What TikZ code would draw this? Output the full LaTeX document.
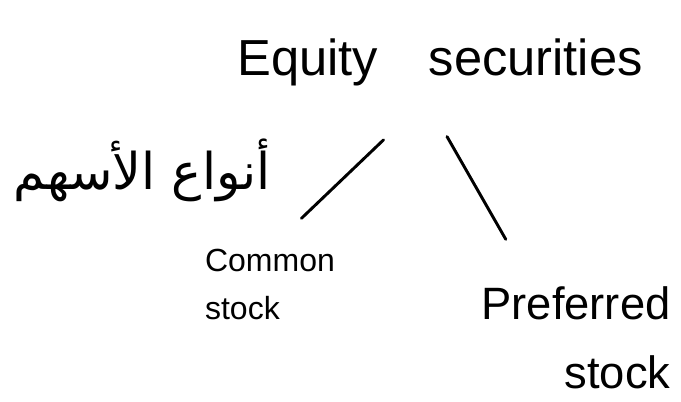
\documentclass[tikz,border=0pt]{standalone}
\usepackage{fontspec}
\setmainfont{Liberation Sans}
\newfontfamily\arabicfont[Script=Arabic]{DejaVu Sans}
\TeXXeTstate=1
\begin{document}
\begin{tikzpicture}[x=0.75pt, y=-0.75pt,
    title/.style ={font=\fontsize{38}{44}\selectfont, inner sep=0pt},
    kind/.style ={align=left, inner sep=0pt},
    branch/.style ={line width=2.2pt, line cap=round}]
   \useasboundingbox (0,0) rectangle (681,401);
   \node[title] (root)  at (440,62)  {Equity\quad securities};
   \node[kind, font=\arabicfont\fontsize{38}{42}\selectfont] (arabic) at (142,170) {\beginR أنواع الأسهم\endR};
   \node[kind, font=\fontsize{24}{36}\selectfont] (common)  at (270,284)  {Common\\stock};
   \node[kind, align=right, font=\fontsize{34}{52}\selectfont] (preferred) at (576,338)  {Preferred\\stock};

   \draw[branch, shorten <=58.6pt, shorten >=32.6pt] (root.south) to  (common.north);
   \draw[branch, shorten <=43.8pt, shorten >=40.7pt] ([xshift=-16.5pt]root.south) to  (preferred.130);

 \end{tikzpicture}
\end{document}
